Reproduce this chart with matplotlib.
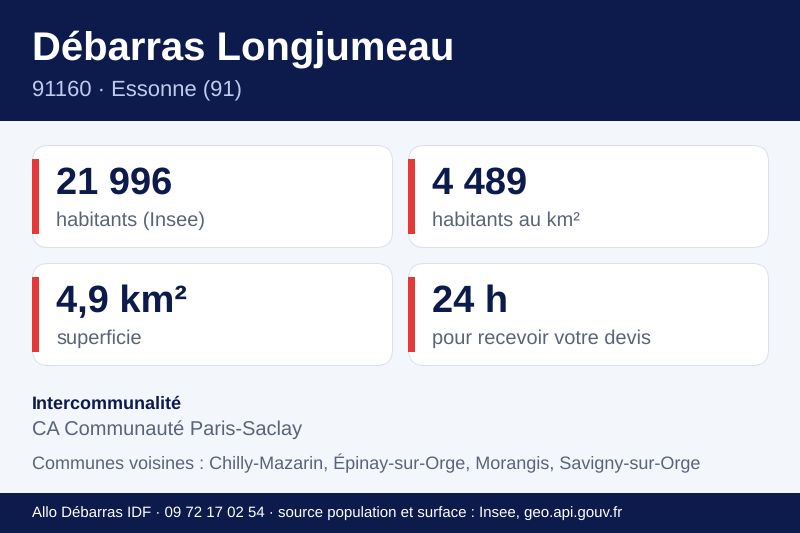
import matplotlib
matplotlib.use("Agg")
import matplotlib.pyplot as plt
from matplotlib.patches import Rectangle, FancyBboxPatch

plt.rcParams['font.family'] = ['Liberation Sans', 'DejaVu Sans']
plt.rcParams['text.hinting'] = 'no_hinting'

title = "Débarras Longjumeau"
subtitle = "91160 · Essonne (91)"
stat_values = ["21 996", "4 489", "4,9 km²", "24 h"]
stat_labels = ["habitants (Insee)", "habitants au km²", "superficie", "pour recevoir votre devis"]
interco_head = "Intercommunalité"
interco = "CA Communauté Paris-Saclay"
voisines = "Communes voisines : Chilly-Mazarin, Épinay-sur-Orge, Morangis, Savigny-sur-Orge"
footer = "Allo Débarras IDF · 09 72 17 02 54 · source population et surface : Insee, geo.api.gouv.fr"

NAVY = "#0d1b4c"
BG = "#f3f6fb"
RED = "#e53935"
GREY = "#5a6478"

fig = plt.figure(figsize=(8, 5.33), dpi=100, facecolor=BG)
ax = fig.add_axes([0, 0, 1, 1])
ax.set_xlim(0, 800)
ax.set_ylim(533, 0)
ax.axis("off")

def px(size):
    return size * 0.72

ax.add_patch(Rectangle((0, 0), 800, 121, color=NAVY, lw=0))
ax.add_patch(Rectangle((0, 493), 800, 40, color=NAVY, lw=0))
ax.text(32, 59.3, title, fontsize=px(40), fontweight="bold", color="white", va="baseline")
ax.text(32, 96, subtitle, fontsize=px(22), color="#bfcbee", va="baseline")

positions = [(32, 145), (408, 145), (32, 263), (408, 263)]
for (x, y), v, l in zip(positions, stat_values, stat_labels):
    ax.add_patch(FancyBboxPatch((x + 0.5, y + 0.5), 360, 102,
                                boxstyle="round,pad=0,rounding_size=16",
                                fc="white", ec="#dbe1ec", lw=0.72))
    ax.add_patch(Rectangle((x, y + 14), 7, 75, color=RED, lw=0))
    ax.text(x + 24, y + 49, v, fontsize=px(38), fontweight="bold", color=NAVY, va="baseline")
    ax.text(x + 24, y + 81, l, fontsize=px(20), color=GREY, va="baseline")

ax.text(32, 409, interco_head, fontsize=px(18), fontweight="bold", color=NAVY, va="baseline")
ax.text(32, 435, interco, fontsize=px(20), color=GREY, va="baseline")
ax.text(32, 469, voisines, fontsize=px(18), color=GREY, va="baseline")
ax.text(32, 517, footer, fontsize=px(15), color="white", va="baseline")

fig.savefig("out.png", dpi=100, facecolor=BG)
